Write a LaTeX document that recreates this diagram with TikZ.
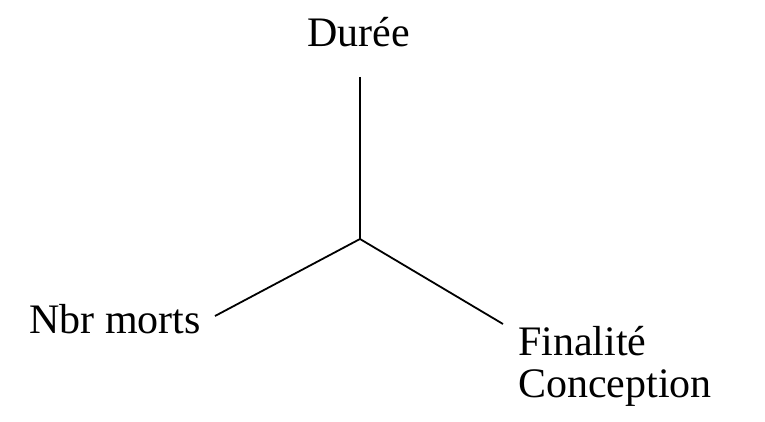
\documentclass[tikz,border=0pt]{standalone}
\usepackage{fontspec}
\setmainfont{Liberation Serif}
\begin{document}
\begin{tikzpicture}[x=1pt,y=1pt,
  lbl/.style={inner sep=0pt, anchor=base west, font=\fontsize{42}{42}\selectfont},
  edge/.style={line width=1.8pt, black}]
\useasboundingbox (0,0) rectangle (765,421);
\coordinate (c) at (360,182);
\coordinate (top) at (360,344);
\coordinate (left) at (215,105);
\coordinate (right) at (503,97);
\node[lbl] (duree) at (307,374) {Durée};
\node[lbl] (nbr) at (29,88) {Nbr morts};
\node[lbl] (fin) at (518,66) {Finalité};
\node[lbl] (conc) at (518,24) {Conception};
\draw[edge] (top) -- (c);
\draw[edge] (c) -- (left);
\draw[edge] (c) -- (right);
\end{tikzpicture}
\end{document}
